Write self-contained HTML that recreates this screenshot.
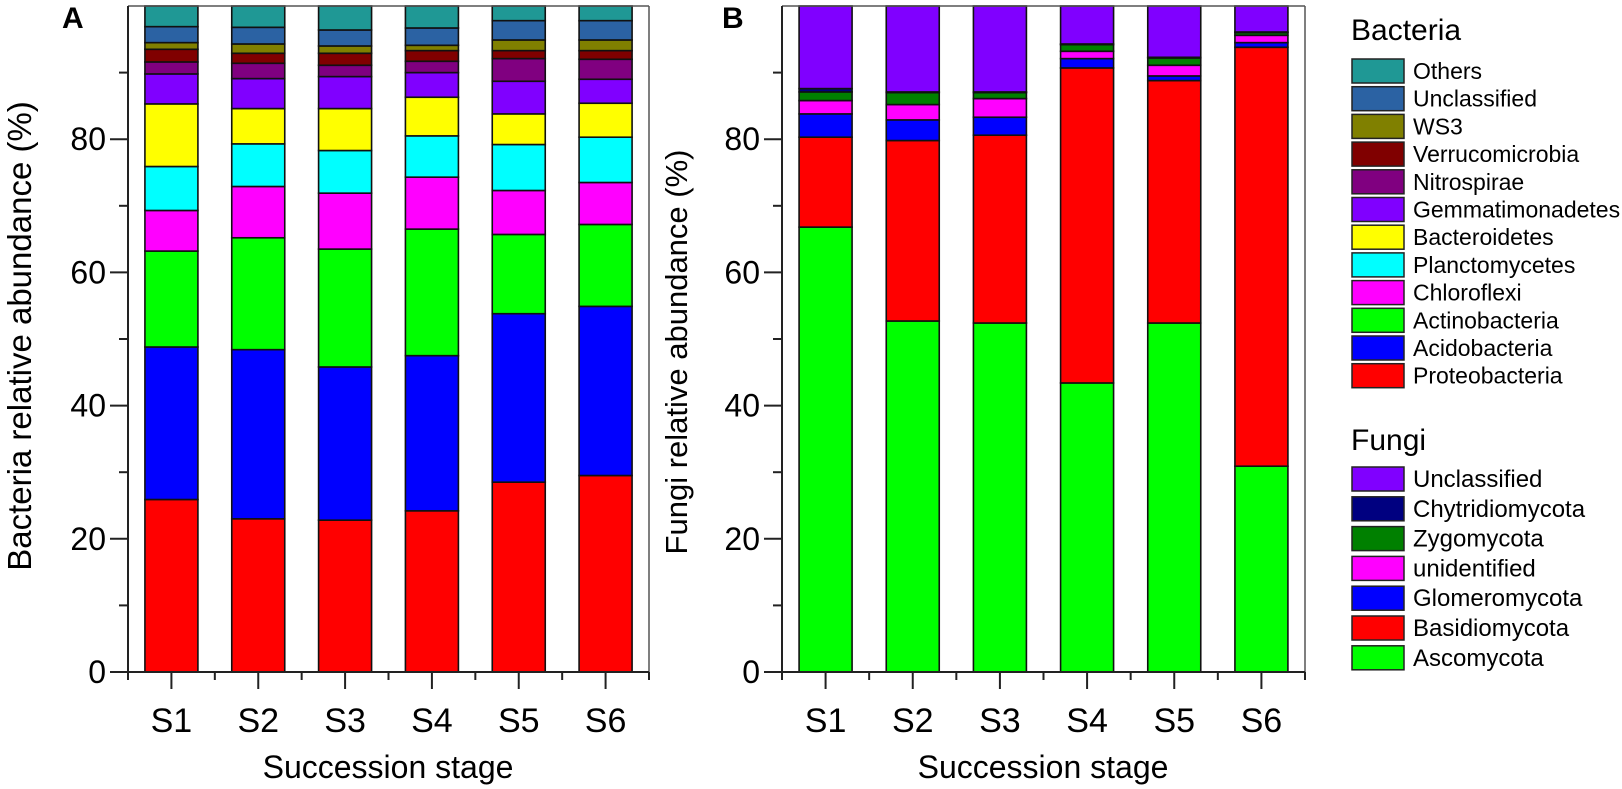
<!DOCTYPE html>
<html><head><meta charset="utf-8"><style>
html,body{margin:0;padding:0;background:#fff;}
svg{display:block;font-family:"Liberation Sans",Arial,sans-serif;}
</style></head><body>
<svg id="chart" width="1622" height="789" viewBox="0 0 1622 789" xmlns="http://www.w3.org/2000/svg">
<text x="62" y="28" font-size="30" font-weight="bold">A</text>
<text x="722" y="28" font-size="30" font-weight="bold">B</text>
<text transform="translate(31,336) rotate(-90)" text-anchor="middle" font-size="33">Bacteria relative abundance (%)</text>
<text transform="translate(687,352) rotate(-90)" text-anchor="middle" font-size="31">Fungi relative abundance (%)</text>
<text x="388" y="778" text-anchor="middle" font-size="32">Succession stage</text>
<text x="1043" y="778" text-anchor="middle" font-size="32">Succession stage</text>
<g id="legend">
<text x="1351" y="40" font-size="30">Bacteria</text>
<text x="1351" y="450" font-size="30">Fungi</text>
</g>
</svg>
<script>
const stages = ["S1","S2","S3","S4","S5","S6"];
const yTicks = [0,20,40,60,80];
const bacteriaNames = ["Proteobacteria","Acidobacteria","Actinobacteria","Chloroflexi","Planctomycetes","Bacteroidetes","Gemmatimonadetes","Nitrospirae","Verrucomicrobia","WS3","Unclassified","Others"];
const bacteriaColors = ["#ff0000","#0000ff","#00ff00","#ff00ff","#00ffff","#ffff00","#8000ff","#800080","#800000","#808000","#2b62a3","#1f9895"];
const bProteo = [25.9,23.0,22.8,24.2,28.5,29.5];
const bAcido = [22.9,25.4,23.0,23.3,25.3,25.4];
const bActino = [14.4,16.8,17.7,19.0,11.9,12.3];
const bChloro = [6.1,7.7,8.4,7.8,6.6,6.3];
const bPlanc = [6.6,6.4,6.4,6.2,6.9,6.8];
const bBactero = [9.4,5.3,6.3,5.8,4.6,5.1];
const bGemma = [4.5,4.5,4.8,3.7,4.9,3.6];
const bNitro = [1.8,2.3,1.7,1.7,3.4,3.0];
const bVerru = [1.9,1.5,1.8,1.6,1.2,1.3];
const bWS3 = [1.0,1.4,1.1,0.8,1.6,1.6];
const bUncl = [2.4,2.5,2.4,2.6,2.9,2.9];
const bOthers = [3.1,3.2,3.6,3.3,2.2,2.2];
const fungiNames = ["Ascomycota","Basidiomycota","Glomeromycota","unidentified","Zygomycota","Chytridiomycota","Unclassified"];
const fungiColors = ["#00ff00","#ff0000","#0000ff","#ff00ff","#008000","#000080","#8000ff"];
const fAsco = [66.8,52.7,52.4,43.4,52.4,30.9];
const fBasid = [13.5,27.1,28.2,47.3,36.4,62.9];
const fGlom = [3.5,3.1,2.7,1.4,0.7,0.7];
const fUnid = [2.0,2.3,2.8,1.1,1.6,1.1];
const fZygo = [1.3,1.8,0.9,1.0,1.1,0.4];
const fChytr = [0.5,0.1,0.1,0.1,0.1,0.1];
const fUncl = [12.4,12.9,12.9,5.7,7.7,3.9];

const bacteriaSeries = [bProteo,bAcido,bActino,bChloro,bPlanc,bBactero,bGemma,bNitro,bVerru,bWS3,bUncl,bOthers];
const fungiSeries = [fAsco,fBasid,fGlom,fUnid,fZygo,fChytr,fUncl];

const NS="http://www.w3.org/2000/svg";
const svg=document.getElementById('chart');
const Y0=672, Y1=6;
function yScale(v){return Y0-(v/100)*(Y0-Y1);}
function mk(tag,attrs,parent){const e=document.createElementNS(NS,tag);for(const k in attrs)e.setAttribute(k,attrs[k]);(parent||svg).appendChild(e);return e;}

function panel(key,x0,x1,series,colors,names){
  const g=mk('g',{});
  
  
  const slot=(x1-x0)/stages.length;
  const bw=53;
  function xCenter(i){return x0+slot*(i+0.5);}
  stages.forEach((s,i)=>{
    let cum=0;
    series.forEach((arr,k)=>{
      const v=arr[i];
      const top=yScale(cum+v), bot=yScale(cum);
      const r=mk('rect',{x:xCenter(i)-bw/2,y:top,width:bw,height:Math.max(0,bot-top),fill:colors[k],stroke:'#111','stroke-width':1.6},g);
      
      
      cum+=v;
    });
    const t=mk('text',{x:xCenter(i),y:732,'text-anchor':'middle','font-size':34},g);
    
    
    t.textContent=s;
    mk('line',{x1:xCenter(i),x2:xCenter(i),y1:Y0,y2:Y0+17,stroke:'#222','stroke-width':2},g);
  });
  for(let i=0;i<=stages.length;i++){
    const x=x0+slot*i;
    mk('line',{x1:x,x2:x,y1:Y0,y2:Y0+8,stroke:'#222','stroke-width':2},g);
  }
  mk('line',{x1:x0,x2:x1,y1:Y1,y2:Y1,stroke:'#555','stroke-width':1.5},g);
  mk('line',{x1:x1,x2:x1,y1:Y1,y2:Y0,stroke:'#555','stroke-width':1.5},g);
  const ya=mk('line',{x1:x0,x2:x0,y1:Y1,y2:Y0,stroke:'#222','stroke-width':2},g);
  
  
  const xa=mk('line',{x1:x0,x2:x1,y1:Y0,y2:Y0,stroke:'#222','stroke-width':2},g);
  
  
  yTicks.forEach(v=>{
    const y=yScale(v);
    mk('line',{x1:x0-18,x2:x0,y1:y,y2:y,stroke:'#222','stroke-width':2},g);
    const t=mk('text',{x:x0-22,y:y+11,'text-anchor':'end','font-size':32},g);
    
    
    t.textContent=v;
    const ym=yScale(v+10);mk('line',{x1:x0-9,x2:x0,y1:ym,y2:ym,stroke:'#222','stroke-width':2},g);
  });
}
panel('bacteria',128,649,bacteriaSeries,bacteriaColors,bacteriaNames);
panel('fungi',782,1305,fungiSeries,fungiColors,fungiNames);

const leg=document.getElementById('legend');
function legend(names,colors,top,step,fs){
  const n=names.length;
  for(let j=0;j<n;j++){
    const k=n-1-j;
    const y=top+j*step;
    const r=mk('rect',{x:1352,y:y,width:52,height:24,fill:colors[k],stroke:'#222','stroke-width':1.5},leg);
    
    
    const t=mk('text',{x:1413,y:y+20,'font-size':fs},leg);
    
    
    t.textContent=names[k];
  }
}
legend(bacteriaNames,bacteriaColors,59,27.7,23);
legend(fungiNames,fungiColors,467,29.8,24);
</script>
</body></html>
